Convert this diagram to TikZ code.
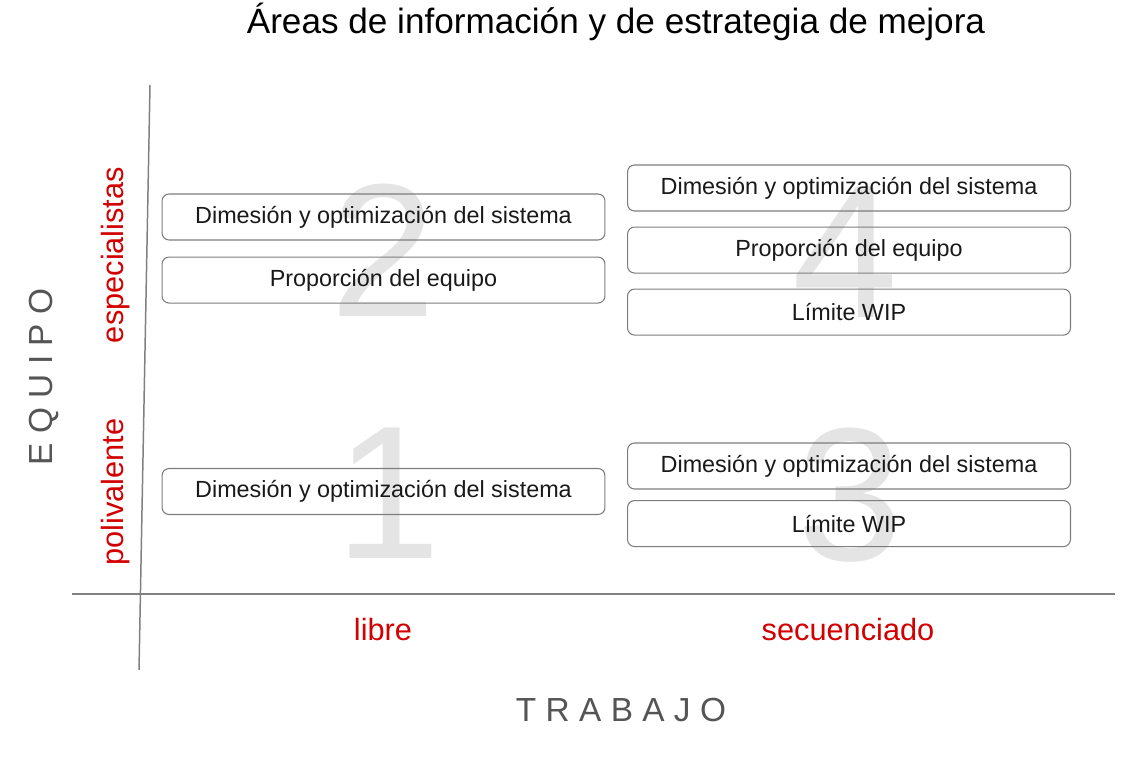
\documentclass[tikz,border=0pt]{standalone}
\usepackage{fontspec}
\setmainfont{Liberation Sans}
\newfontfamily\spacedfont[LetterSpace=28]{Liberation Sans}
\usetikzlibrary{positioning}
\definecolor{axisgray}{RGB}{128,128,128}
\definecolor{labelred}{RGB}{210,0,0}
\definecolor{digitgray}{RGB}{228,228,228}
\definecolor{axistext}{RGB}{85,85,85}
\definecolor{boxline}{RGB}{125,125,125}

\begin{document}
\begin{tikzpicture}[
    x=0.02cm, y=-0.02cm,
    area/.style={draw=boxline, rounded corners=4pt, minimum width=8.86cm, minimum height=0.92cm, line width=0.6pt, inner sep=0pt, text=black!90, font=\fontsize{13.3}{15}\selectfont},
    digit/.style={text=digitgray, inner sep=0pt, font=\fontsize{108}{110}\selectfont},
    level/.style={text=labelred, font=\fontsize{17.5}{20}\selectfont},
    axislabel/.style={text=axistext, font=\spacedfont\fontsize{19}{22}\selectfont},
    axis/.style={draw=axisgray, line width=0.85pt}
]
\useasboundingbox (0,0) rectangle (1124,759);

% title
\node (title) at (616,22) {\fontsize{20}{23}\selectfont Áreas de información y de estrategia de mejora};

% axes
\coordinate (ytop) at (150,85);
\coordinate (ybot) at (139,670);
\coordinate (xleft) at (72,594);
\coordinate (xright) at (1115,594);
\draw[axis] (ybot) -- (ytop);
\draw[axis] (xleft) -- (xright);

% quadrant numbers
\node[digit] (d2) at (383,250) {2};
\node[digit] (d4) at (845,252) {4};
\node[digit] (d1) at (388,493) {1};
\node[digit] (d3) at (850,495) {3};

% quadrant 2
\node[area] (q2a) at (383.5,217) {Dimesión y optimización del sistema};
\node[area, below=0.32cm of q2a] (q2b) {Proporción del equipo};

% quadrant 1
\node[area] (q1a) at (383.5,491.5) {Dimesión y optimización del sistema};

% quadrant 4
\node[area] (q4a) at (849,188) {Dimesión y optimización del sistema};
\node[area, below=0.3cm of q4a] (q4b) {Proporción del equipo};
\node[area, below=0.3cm of q4b] (q4c) {Límite WIP};

% quadrant 3
\node[area] (q3a) at (849,466) {Dimesión y optimización del sistema};
\node[area, below=0.21cm of q3a] (q3b) {Límite WIP};

% axis labels
\node[level, rotate=90] (spec) at (116,255) {especialistas};
\node[level, rotate=90] (poli) at (116,492) {polivalente};
\node[level] (libre) at (383,630) {libre};
\node[level] (secu) at (848,630) {secuenciado};
\node[axislabel, rotate=90] (equipo) at (44,377) {EQUIPO};
\node[axislabel] (trabajo) at (621,710) {TRABAJO};

\end{tikzpicture}
\end{document}
